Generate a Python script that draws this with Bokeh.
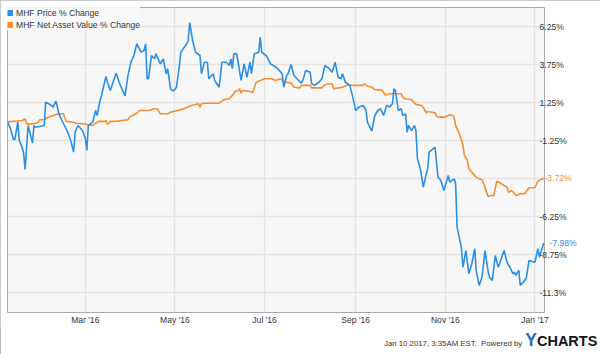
import pandas as pd
from bokeh.plotting import figure
from bokeh.layouts import column
from bokeh.models import (Range1d, FixedTicker, DatetimeTickFormatter, Legend, LegendItem,
                          ColumnDataSource, LinearAxis, Div)
from bokeh.embed import file_html
from bokeh.resources import INLINE

# ---------------- data ----------------
price_dates = [
    "2016-01-08", "2016-01-10", "2016-01-12", "2016-01-13", "2016-01-15", "2016-01-16", "2016-01-18",
    "2016-01-19", "2016-01-20", "2016-01-22", "2016-01-25", "2016-01-26", "2016-01-27", "2016-02-02",
    "2016-02-03", "2016-02-07", "2016-02-08", "2016-02-10", "2016-02-12", "2016-02-14", "2016-02-18",
    "2016-02-20", "2016-02-22", "2016-02-23", "2016-02-25", "2016-02-28", "2016-03-01", "2016-03-02",
    "2016-03-03", "2016-03-06", "2016-03-08", "2016-03-09", "2016-03-11", "2016-03-12", "2016-03-15",
    "2016-03-16", "2016-03-18", "2016-03-22", "2016-03-24", "2016-03-28", "2016-03-30", "2016-04-01",
    "2016-04-03", "2016-04-05", "2016-04-08", "2016-04-10", "2016-04-11", "2016-04-12", "2016-04-13",
    "2016-04-15", "2016-04-17", "2016-04-18", "2016-04-21", "2016-04-23", "2016-04-25", "2016-04-26",
    "2016-04-28", "2016-04-30", "2016-05-02", "2016-05-04", "2016-05-05", "2016-05-09", "2016-05-10",
    "2016-05-11", "2016-05-13", "2016-05-15", "2016-05-18", "2016-05-19", "2016-05-21", "2016-05-23",
    "2016-05-24", "2016-05-27", "2016-05-28", "2016-05-31", "2016-06-02", "2016-06-05", "2016-06-07",
    "2016-06-08", "2016-06-09", "2016-06-10", "2016-06-12", "2016-06-15", "2016-06-17", "2016-06-19",
    "2016-06-21", "2016-06-22", "2016-06-24", "2016-06-27", "2016-06-28", "2016-06-29", "2016-07-02",
    "2016-07-05", "2016-07-07", "2016-07-10", "2016-07-13", "2016-07-14", "2016-07-16", "2016-07-17",
    "2016-07-19", "2016-07-21", "2016-07-23", "2016-07-26", "2016-07-27", "2016-07-29", "2016-08-01",
    "2016-08-02", "2016-08-04", "2016-08-07", "2016-08-09", "2016-08-11", "2016-08-14", "2016-08-16",
    "2016-08-18", "2016-08-20", "2016-08-22", "2016-08-23", "2016-08-25", "2016-08-28", "2016-08-30",
    "2016-09-01", "2016-09-03", "2016-09-06", "2016-09-08", "2016-09-09", "2016-09-12", "2016-09-14",
    "2016-09-16", "2016-09-18", "2016-09-20", "2016-09-22", "2016-09-24", "2016-09-26", "2016-09-27",
    "2016-09-28", "2016-09-30", "2016-10-02", "2016-10-03", "2016-10-05", "2016-10-06", "2016-10-07",
    "2016-10-09", "2016-10-11", "2016-10-12", "2016-10-13", "2016-10-15", "2016-10-17", "2016-10-19",
    "2016-10-20", "2016-10-21", "2016-10-25", "2016-10-27", "2016-10-29", "2016-10-31", "2016-11-02",
    "2016-11-03", "2016-11-04", "2016-11-07", "2016-11-08", "2016-11-09", "2016-11-12", "2016-11-13",
    "2016-11-15", "2016-11-17", "2016-11-19", "2016-11-21", "2016-11-22", "2016-11-24", "2016-11-26",
    "2016-11-28", "2016-11-30", "2016-12-01", "2016-12-03", "2016-12-05", "2016-12-07", "2016-12-11",
    "2016-12-13", "2016-12-15", "2016-12-17", "2016-12-18", "2016-12-19", "2016-12-21", "2016-12-22",
    "2016-12-24", "2016-12-26", "2016-12-28", "2017-01-01", "2017-01-03", "2017-01-04", "2017-01-07",
]
price_pct = [
    0.00, -0.43, -1.16, -1.16, -0.02, -1.22, -1.69,
    -2.08, -3.13, -0.24, -1.40, -0.24, -0.35, -0.24,
    1.30, 1.08, 0.97, 1.36, 0.53, 0.09, -0.68,
    -1.22, -1.99, -0.68, -0.24, -0.57, -1.09, -1.88,
    -0.24, -0.02, 0.75, 0.42, 1.41, 1.74, 2.99,
    2.61, 2.07, 3.21, 2.59, 1.71, 3.05, 3.93,
    4.37, 5.14, 4.59, 4.70, 5.14, 2.84, 2.86,
    4.37, 4.15, 4.48, 3.82, 4.15, 3.17, 3.50,
    2.18, 2.02, 2.28, 3.71, 4.59, 5.14, 5.36,
    6.54, 5.36, 4.59, 4.37, 3.17, 3.93, 3.93,
    2.84, 3.17, 2.73, 2.28, 3.93, 3.93, 3.71,
    4.15, 3.50, 4.48, 4.48, 2.73, 3.82, 2.94,
    3.93, 3.17, 4.48, 4.59, 5.58, 4.59, 4.37,
    3.82, 3.71, 3.50, 3.17, 2.28, 3.05, 3.17,
    3.78, 3.05, 2.84, 2.55, 2.73, 3.38, 3.27,
    2.51, 2.40, 2.61, 2.84, 3.71, 3.50, 3.27,
    3.93, 2.94, 2.84, 3.17, 2.61, 2.40, 1.63,
    0.75, 0.97, 1.08, 0.75, -0.02, -0.61, 0.42,
    0.75, 0.86, 0.42, 1.08, 0.97, 1.19, 2.18,
    2.07, 0.75, 0.86, 0.42, 0.53, -0.68, -0.24,
    -0.57, -0.24, -0.57, -2.43, -3.09, -4.30, -3.42,
    -3.09, -1.99, -1.67, -3.64, -3.86, -4.52, -3.86,
    -3.53, -3.97, -3.75, -4.08, -6.93, -8.33, -9.57,
    -8.47, -10.00, -9.34, -8.35, -9.78, -10.77, -10.22,
    -8.47, -9.78, -10.22, -10.44, -8.80, -9.57, -8.47,
    -9.24, -9.57, -10.00, -9.89, -10.11, -9.78, -10.77,
    -10.55, -10.33, -9.12, -9.24, -8.35, -8.91, -7.98,
]

nav_dates = [
    "2016-01-08", "2016-01-18", "2016-01-20", "2016-01-21", "2016-01-26", "2016-01-29", "2016-01-30",
    "2016-02-02", "2016-02-04", "2016-02-06", "2016-02-08", "2016-02-12", "2016-02-15", "2016-02-17",
    "2016-02-22", "2016-02-24", "2016-02-29", "2016-03-02", "2016-03-06", "2016-03-08", "2016-03-10",
    "2016-03-14", "2016-03-15", "2016-03-16", "2016-03-18", "2016-03-23", "2016-03-30", "2016-03-31",
    "2016-04-02", "2016-04-05", "2016-04-07", "2016-04-13", "2016-04-17", "2016-04-19", "2016-04-21",
    "2016-04-26", "2016-04-28", "2016-05-03", "2016-05-07", "2016-05-12", "2016-05-17", "2016-05-18",
    "2016-05-19", "2016-05-22", "2016-05-31", "2016-06-03", "2016-06-07", "2016-06-08", "2016-06-10",
    "2016-06-11", "2016-06-13", "2016-06-14", "2016-06-15", "2016-06-16", "2016-06-20", "2016-06-22",
    "2016-06-23", "2016-06-25", "2016-06-27", "2016-07-01", "2016-07-06", "2016-07-08", "2016-07-12",
    "2016-07-14", "2016-07-16", "2016-07-19", "2016-07-21", "2016-07-25", "2016-07-26", "2016-08-01",
    "2016-08-02", "2016-08-09", "2016-08-11", "2016-08-16", "2016-08-17", "2016-08-23", "2016-08-27",
    "2016-08-30", "2016-09-06", "2016-09-07", "2016-09-09", "2016-09-12", "2016-09-14", "2016-09-19",
    "2016-09-21", "2016-09-25", "2016-10-02", "2016-10-03", "2016-10-04", "2016-10-09", "2016-10-10",
    "2016-10-12", "2016-10-16", "2016-10-17", "2016-10-19", "2016-10-20", "2016-10-25", "2016-10-26",
    "2016-10-28", "2016-11-01", "2016-11-04", "2016-11-06", "2016-11-07", "2016-11-08", "2016-11-11",
    "2016-11-13", "2016-11-14", "2016-11-16", "2016-11-17", "2016-11-19", "2016-11-22", "2016-11-24",
    "2016-11-26", "2016-11-28", "2016-11-30", "2016-12-02", "2016-12-04", "2016-12-06", "2016-12-08",
    "2016-12-11", "2016-12-13", "2016-12-14", "2016-12-16", "2016-12-18", "2016-12-19", "2016-12-22",
    "2016-12-25", "2016-12-28", "2017-01-01", "2017-01-03", "2017-01-06", "2017-01-07",
]
nav_pct = [
    0.00, 0.09, 0.20, -0.13, -0.13, -0.02, 0.14,
    0.14, 0.27, 0.36, 0.42, 0.53, 0.53, 0.03,
    -0.02, -0.09, -0.13, -0.17, -0.24, -0.09, 0.03,
    0.03, 0.09, -0.17, 0.03, 0.05, 0.14, 0.31,
    0.42, 0.57, 0.75, 0.75, 0.86, 0.86, 0.53,
    0.53, 0.64, 0.75, 0.86, 1.08, 1.19, 0.97,
    1.19, 1.23, 1.23, 1.45, 1.52, 1.63, 1.85,
    2.02, 2.07, 2.18, 1.89, 2.07, 2.02, 1.96,
    1.92, 2.55, 2.68, 2.84, 2.84, 2.73, 2.84,
    2.61, 2.61, 2.57, 2.28, 2.24, 2.40, 2.40,
    2.24, 2.24, 2.46, 2.51, 2.18, 2.28, 2.44,
    2.40, 2.40, 2.51, 2.35, 2.28, 2.13, 2.09,
    1.77, 1.85, 1.85, 1.63, 1.52, 1.47, 1.34,
    1.15, 1.08, 0.95, 0.60, 0.68, 0.60, 0.36,
    0.31, 0.31, 0.47, 0.42, 0.31, -0.24, -0.90,
    -1.55, -2.21, -2.54, -3.09, -3.31, -3.64, -3.75,
    -3.81, -4.30, -4.91, -4.85, -4.85, -3.90, -4.01,
    -4.19, -4.30, -4.63, -4.52, -4.69, -4.85, -4.73,
    -4.73, -4.34, -4.34, -3.90, -3.75, -3.72,
]

series_names = ["MHF Price % Change", "MHF Net Asset Value % Change"]
x_tick_dates = ["2016-03-01", "2016-05-01", "2016-07-01", "2016-09-01", "2016-11-01", "2017-01-01"]
y_ticks = [6.25, 3.75, 1.25, -1.25, -3.75, -6.25, -8.75, -11.25]
y_tick_labels = ["6.25%", "3.75%", "1.25%", "-1.25%", "", "-6.25%", "-8.75%", "-11.3%"]
footer_stamp = "Jan 10 2017, 3:35AM EST.&nbsp; Powered by"

# ---------------- styling ----------------
BLUE = "#2a8fe6"
ORANGE = "#f68d2e"
FONT = "Liberation Sans"
TXT = "#333333"
FS = "8.6px"

price_src = ColumnDataSource(dict(x=pd.to_datetime(price_dates), y=price_pct))
nav_src = ColumnDataSource(dict(x=pd.to_datetime(nav_dates), y=nav_pct))

x_start = pd.Timestamp("2016-01-08")
x_end = pd.Timestamp("2017-01-07 12:00")

p = figure(width=600, height=328, x_axis_type="datetime", y_axis_location="right",
           x_range=Range1d(x_start, x_end), y_range=Range1d(-12.55, 7.53),
           output_backend="svg", toolbar_location=None,
           min_border_left=7, min_border_right=56, min_border_top=7, min_border_bottom=16)

p.background_fill_color = "#f7f7f7"
p.border_fill_color = "white"
p.outline_line_color = "#a8a8a8"
p.outline_line_width = 1

x_ms = [pd.Timestamp(d).value / 1e6 for d in x_tick_dates]
p.xaxis.ticker = FixedTicker(ticks=x_ms)
p.xgrid.ticker = FixedTicker(ticks=x_ms)
fmt = "%b '%y"
p.xaxis.formatter = DatetimeTickFormatter(
    microseconds=fmt, milliseconds=fmt, seconds=fmt, minsec=fmt, minutes=fmt,
    hourmin=fmt, hours=fmt, days=fmt, months=fmt, years=fmt)

p.yaxis.ticker = FixedTicker(ticks=y_ticks)
p.ygrid.ticker = FixedTicker(ticks=y_ticks)
p.yaxis.major_label_overrides = {t: l for t, l in zip(y_ticks, y_tick_labels)}


def style_axis(ax, color=TXT):
    ax.axis_line_color = None
    ax.major_tick_line_color = None
    ax.minor_tick_line_color = None
    ax.major_tick_out = 0
    ax.major_tick_in = 0
    ax.major_label_text_font = FONT
    ax.major_label_text_font_size = FS
    ax.major_label_text_color = color


style_axis(p.xaxis[0])
style_axis(p.yaxis[0])
p.xaxis.major_label_standoff = 2
p.yaxis.major_label_standoff = -5

for g in (p.xgrid[0], p.ygrid[0]):
    g.grid_line_color = "#e4e4e4"
    g.grid_line_width = 1.5

p.line("x", "y", source=nav_src, color=ORANGE, line_width=1.6)
p.line("x", "y", source=price_src, color=BLUE, line_width=1.6)

# last-value tags, drawn as one-tick axes stacked onto the value axis
for val, col in [(nav_pct[-1], ORANGE), (price_pct[-1], BLUE)]:
    tag = LinearAxis(ticker=FixedTicker(ticks=[val]),
                     major_label_overrides={val: f"{val:.2f}%"})
    style_axis(tag, col)
    tag.major_label_standoff = -25
    p.add_layout(tag, "right")

# legend swatches (square markers drawn as short thick lines, kept off-range)
sw_price = p.line(x=[x_start, x_end], y=[90, 90], color=BLUE, line_width=6)
sw_nav = p.line(x=[x_start, x_end], y=[90, 90], color=ORANGE, line_width=6)
legend = Legend(items=[LegendItem(label=series_names[0], renderers=[sw_price]),
                       LegendItem(label=series_names[1], renderers=[sw_nav])],
                location="top_left", glyph_width=6, glyph_height=11, label_height=11,
                spacing=1, padding=5, margin=0, label_standoff=3,
                label_text_font=FONT, label_text_font_size=FS, label_text_color=TXT,
                background_fill_color="#f9f9f9", background_fill_alpha=1.0,
                border_line_color=None)
p.add_layout(legend)

footer = Div(width=600, height=26, text=(
    f"<div style=\"margin-left:379px;font-family:'{FONT}';font-size:7.8px;"
    f"color:{TXT};line-height:15px;white-space:nowrap\">{footer_stamp}"
    "<span style=\"margin-left:3px;font-weight:bold;font-size:17.5px;color:#1f6fc4\">Y</span>"
    "<span style=\"font-weight:bold;font-size:14.5px;color:#141414\">CHARTS</span></div>"))

layout = column(p, footer, spacing=0,
                styles={"outline": "1px solid #b8b8b8", "outline-offset": "-1px",
                        "background": "white"})

open("out.html", "w").write(file_html(layout, INLINE))
